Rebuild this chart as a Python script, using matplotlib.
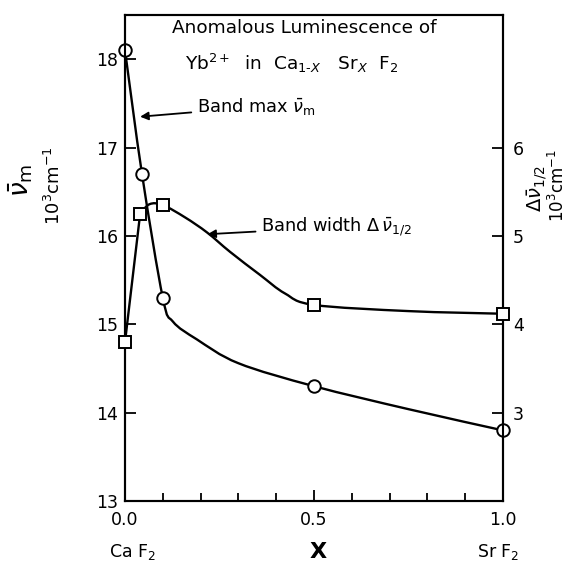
import numpy as np
import matplotlib
matplotlib.use("Agg")
import matplotlib.pyplot as plt
from matplotlib.path import Path
from matplotlib.patches import PathPatch

# band maximum (left axis, 10^3 cm^-1), circles
x_max = [0.0, 0.045, 0.1, 0.5, 1.0]
nu_max = [18.1, 16.7, 15.3, 14.3, 13.8]
# hand-drawn curve through the circles
x_max_curve = [0.0, 0.045, 0.1, 0.127, 0.19, 0.3, 0.5, 0.75, 1.0]
nu_max_curve = [18.1, 16.7, 15.3, 15.03, 14.83, 14.56, 14.3, 14.04, 13.8]

# band width (right axis, 10^3 cm^-1), squares
x_wid = [0.0, 0.04, 0.1, 0.5, 1.0]
nu_wid = [3.8, 5.25, 5.35, 4.22, 4.12]
x_wid_curve = [0.04, 0.065, 0.1, 0.159, 0.217, 0.278, 0.357, 0.423, 0.5, 0.75, 1.0]
nu_wid_curve = [5.25, 5.36, 5.35, 5.21, 5.04, 4.82, 4.56, 4.35, 4.22, 4.15, 4.12]

left_ticks = [13, 14, 15, 16, 17, 18]
right_ticks = [3, 4, 5, 6]
x_major = [0.0, 0.5, 1.0]
x_minor = [0.1, 0.2, 0.3, 0.4, 0.6, 0.7, 0.8, 0.9]

plt.rcParams['font.family'] = ['DejaVu Sans']
plt.rcParams['mathtext.fontset'] = 'dejavusans'


def smooth(ax, xs, ys, lw):
    # catmull-rom through the traced points, drawn as bezier path
    p = np.column_stack([xs, ys])
    p_ext = np.vstack([p[0], p, p[-1]])
    verts = [tuple(p[0])]
    codes = [Path.MOVETO]
    for i in range(len(p) - 1):
        a, b, c, d = p_ext[i], p_ext[i + 1], p_ext[i + 2], p_ext[i + 3]
        c1 = b + (c - a) / 6.0
        c2 = c - (d - b) / 6.0
        verts += [tuple(c1), tuple(c2), tuple(c)]
        codes += [Path.CURVE4] * 3
    ax.add_patch(PathPatch(Path(verts, codes), fill=False, lw=lw, ec='black', zorder=2,
                           capstyle='round', joinstyle='round'))


fig = plt.figure(figsize=(5.82, 5.63), dpi=100)
ax = fig.add_axes([0.2148, 0.110, 0.6495, 0.8632])
ax2 = ax.twinx()

lw = 1.7
smooth(ax, x_max_curve, nu_max_curve, lw)
ax.plot(x_max, nu_max, 'o', ms=9, mfc='white', mec='black', mew=1.4, zorder=3, clip_on=False)
ax2.plot(x_wid[:2], nu_wid[:2], color='black', lw=lw, zorder=2)
smooth(ax2, x_wid_curve, nu_wid_curve, lw)
ax2.plot(x_wid, nu_wid, 's', ms=9, mfc='white', mec='black', mew=1.4, zorder=3, clip_on=False)

ax.set_xlim(0, 1.0)
ax.set_ylim(13, 18.5)
ax2.set_ylim(2, 7.5)

ax.set_xticks(x_major)
ax.set_xticklabels(['0.0', '0.5', '1.0'])
ax.set_xticks(x_minor, minor=True)
ax.set_yticks(left_ticks)
ax2.set_yticks(right_ticks)

for a in (ax, ax2):
    for s in a.spines.values():
        s.set_linewidth(1.5)
ax.tick_params(axis='both', which='major', direction='in', length=8, width=1.3,
               labelsize=12.5, pad=5)
ax.tick_params(axis='x', which='minor', direction='in', length=6, width=1.3)
ax.tick_params(axis='x', pad=7)
ax2.tick_params(axis='y', direction='in', length=8, width=1.3, labelsize=12.5, pad=7)

# titles inside the box
ax.text(0.475, 0.973, 'Anomalous Luminescence of', transform=ax.transAxes,
        ha='center', va='center', fontsize=13.3)
ax.text(0.44, 0.901, r'Yb$^{2+}$  in  Ca$_{1\text{-}X}$   Sr$_X$  F$_2$', transform=ax.transAxes,
        ha='center', va='center', fontsize=13.3)

# annotations
ax.annotate(r'Band max $\bar{\nu}_{\rm m}$', xy=(0.04, 17.35), xytext=(0.19, 17.46),
            fontsize=12.8, va='center', ha='left',
            arrowprops=dict(arrowstyle='-|>', color='black', lw=1.3,
                            shrinkA=2, shrinkB=0, mutation_scale=12))
ax2.annotate(r'Band width $\Delta\,\bar{\nu}_{1/2}$', xy=(0.218, 5.02), xytext=(0.36, 5.1),
             fontsize=12.8, va='center', ha='left',
             arrowprops=dict(arrowstyle='-|>', color='black', lw=1.3,
                             shrinkA=2, shrinkB=0, mutation_scale=12))

# axis labels
fig.text(0.035, 0.68, r'$\bar{\nu}_{\rm m}$', rotation=90, fontsize=19, ha='center', va='center')
fig.text(0.093, 0.67, r'10$^3$cm$^{-1}$', rotation=90, fontsize=13, ha='center', va='center')
fig.text(0.922, 0.665, r'$\Delta\bar{\nu}_{1/2}$', rotation=90, fontsize=14, ha='center', va='center')
fig.text(0.958, 0.67, r'10$^3$cm$^{-1}$', rotation=90, fontsize=12, ha='center', va='center')

fig.text(0.227, 0.02, r'Ca F$_2$', fontsize=12.5, ha='center', va='center')
fig.text(0.546, 0.02, 'X', fontsize=16, ha='center', va='center', fontweight='bold')
fig.text(0.856, 0.02, r'Sr F$_2$', fontsize=12.5, ha='center', va='center')

fig.savefig('out.png', dpi=100)
